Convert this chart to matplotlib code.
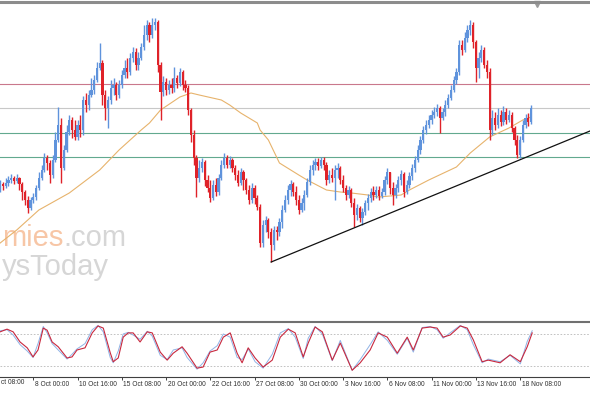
import matplotlib.pyplot as plt
from matplotlib.transforms import ScaledTranslation

# H4 candles (price in chart points, higher = higher price); open = previous close
first_open = 111
close = [116, 114, 117, 120, 122, 119, 122, 116, 108, 100,
         92, 100, 103, 112, 122, 130, 142, 137, 125, 140,
         160, 175, 132, 150, 168, 180, 170, 163, 175, 170,
         200, 195, 205, 210, 220, 232, 237, 205, 192, 200,
         212, 215, 205, 215, 225, 232, 228, 242, 248, 235,
         242, 253, 265, 275, 265, 275, 278, 235, 208, 218,
         210, 215, 212, 222, 217, 228, 215, 212, 190, 165,
         142, 122, 132, 138, 120, 112, 102, 115, 108, 122,
         135, 142, 135, 140, 132, 125, 117, 128, 120, 110,
         100, 112, 102, 93, 57, 75, 80, 68, 55, 70,
         68, 78, 90, 100, 110, 116, 108, 100, 90, 97,
         105, 118, 130, 135, 138, 134, 140, 135, 120, 125,
         122, 130, 132, 120, 112, 105, 110, 97, 85,
         92, 82, 88, 97, 102, 108, 105, 110, 104, 108,
         120, 128, 112, 105, 112, 120, 126, 108, 115, 124,
         132, 140, 150, 160, 170, 175, 180, 185, 188, 192,
         182, 188, 195, 202, 210, 220, 228, 255, 250, 262,
         270, 275, 258, 232, 242, 250, 235, 228, 170, 182,
         175, 185, 178, 188, 180, 185, 172, 160, 145, 160,
         175, 182, 178, 192]
high = [120, 118, 122, 124, 126, 124, 126, 123, 118, 110,
        104, 103, 107, 115, 128, 135, 147, 145, 140, 145,
        168, 193, 182, 155, 175, 185, 183, 180, 180, 185,
        204, 207, 210, 222, 225, 238, 257, 240, 210, 204,
        220, 222, 218, 220, 230, 240, 242, 247, 253, 252,
        248, 257, 275, 280, 278, 282, 282, 280, 238, 224,
        222, 220, 222, 233, 225, 232, 230, 220, 215, 192,
        170, 145, 140, 142, 140, 125, 120, 120, 122, 126,
        140, 147, 145, 144, 142, 135, 130, 132, 130, 122,
        115, 117, 115, 105, 96, 80, 84, 82, 72, 74,
        74, 82, 95, 105, 115, 120, 118, 114, 105, 102,
        110, 122, 135, 140, 142, 142, 143, 143, 138, 130,
        132, 135, 137, 134, 125, 115, 114, 112, 102,
        96, 94, 92, 100, 106, 112, 114, 114, 114, 112,
        124, 132, 128, 118, 116, 124, 130, 128, 120, 128,
        136, 144, 155, 164, 174, 180, 185, 190, 193, 196,
        194, 192, 200, 206, 215, 224, 232, 260, 260, 268,
        275, 280, 278, 260, 248, 255, 253, 240, 232, 190,
        188, 192, 190, 194, 192, 190, 188, 174, 165, 164,
        180, 186, 187, 195]
low = [108, 110, 112, 114, 117, 116, 117, 110, 100, 95,
       87, 90, 97, 100, 110, 120, 128, 130, 117, 122,
       138, 158, 117, 130, 148, 165, 162, 160, 160, 163,
       165, 188, 190, 203, 206, 218, 230, 195, 180, 172,
       196, 205, 200, 202, 212, 222, 222, 225, 238, 230,
       230, 240, 250, 260, 258, 262, 270, 228, 180, 204,
       205, 206, 207, 208, 212, 214, 210, 208, 185, 158,
       135, 103, 118, 128, 114, 108, 98, 100, 104, 105,
       120, 132, 132, 132, 128, 120, 114, 115, 110, 106,
       96, 97, 96, 90, 53, 53, 68, 62, 38, 50,
       60, 64, 72, 88, 96, 104, 104, 95, 86, 88,
       90, 103, 115, 125, 130, 130, 132, 130, 115, 117,
       118, 100, 122, 116, 108, 100, 102, 93, 73,
       80, 78, 75, 85, 90, 98, 100, 102, 100, 102,
       105, 116, 106, 95, 102, 108, 115, 103, 106, 112,
       120, 128, 138, 146, 157, 166, 172, 176, 182, 184,
       167, 180, 184, 192, 200, 208, 216, 225, 245, 248,
       258, 265, 252, 218, 222, 238, 232, 222, 160, 165,
       170, 172, 174, 175, 176, 178, 168, 155, 142, 142,
       158, 172, 174, 176]

# moving average
ma_idx = [0, 6, 14, 25, 36, 43, 47, 51, 54, 58, 65, 69, 72, 80, 83, 87, 93, 94,
          97, 101, 108, 111, 118, 123, 127, 133, 137, 145, 148, 155, 165, 170,
          177, 184, 189, 192]
ma_val = [57, 70, 90, 107, 130, 150, 160, 170, 177, 190, 203, 207, 205, 200, 195,
          187, 177, 170, 160, 137, 125, 120, 110, 108, 107, 105, 103, 105, 110,
          120, 133, 147, 163, 172, 180, 183]

# horizontal levels and rising trendline
level_vals = [216, 192, 167, 143]
level_colors = ["#c9788c", "#c8c8c8", "#62a98f", "#62a98f"]
trend_idx = [98, 213.3]
trend_val = [38, 169]

# stochastic oscillator (%K blue, %D red)
stoch_idx = [0, 2.5, 4.7, 7.2, 9.8, 11.9, 13.7, 15.6, 17.0, 18.8, 21.0, 24.2,
             26.0, 27.8, 30.7, 33.3, 35.4, 37.3, 39.8, 40.9, 42.7, 44.5, 46.3,
             48.1, 50.6, 53.2, 55.0, 57.9, 60.4, 62.6, 65.8, 67.6, 71.2, 73.4,
             75.9, 78.5, 80.7, 83.2, 85.7, 87.5, 89.7, 92.2, 95.1, 98.4, 101.3,
             104.2, 106.7, 109.6, 111.4, 113.9, 116.5, 120.1, 123.0, 127.3,
             130.2, 133.8, 136.7, 140.0, 143.6, 147.2, 149.4, 152.6, 155.5,
             158.0, 160.2, 162.7, 166.4, 168.9, 171.1, 174.3, 176.5, 180.8,
             184.4, 188.1, 190.6, 192.4]
stoch_k = [86, 88, 78, 60, 48, 36, 62, 94, 82, 62, 50, 33, 42, 52, 62, 88, 96,
           84, 36, 26, 48, 80, 83, 78, 70, 85, 76, 40, 32, 50, 54, 36, 14, 26,
           48, 58, 80, 74, 36, 32, 52, 28, 16, 42, 82, 90, 74, 34, 72, 94, 80,
           30, 68, 12, 32, 60, 84, 68, 42, 72, 46, 92, 94, 88, 72, 82, 96, 88,
           60, 26, 33, 28, 40, 24, 66, 86]
stoch_d = [84, 89, 84, 65, 54, 37, 50, 91, 87, 65, 56, 35, 37, 50, 54, 82, 95,
           91, 45, 28, 35, 74, 82, 82, 65, 84, 82, 46, 31, 44, 56, 44, 16, 18,
           46, 50, 74, 82, 44, 26, 54, 35, 18, 31, 74, 89, 82, 37, 63, 93, 84,
           31, 63, 12, 26, 50, 82, 74, 44, 74, 50, 91, 93, 91, 74, 78, 95, 91,
           69, 28, 31, 26, 41, 28, 56, 82]

tick_idx = [12, 28, 44, 60, 76, 92, 108, 124, 140, 156, 172, 188]
tick_labels = ["8 Oct 00:00", "10 Oct 16:00", "15 Oct 08:00", "20 Oct 00:00",
               "22 Oct 16:00", "27 Oct 08:00", "30 Oct 00:00", "3 Nov 16:00",
               "6 Nov 08:00", "11 Nov 00:00", "13 Nov 16:00", "18 Nov 08:00"]
edge_label = "ct 08:00"   # the part of the first date label left at the edge

bull = "#5f93dc"
bear = "#df2229"
H = 393

fig = plt.figure(figsize=(5.9, 3.93), dpi=100)
ax = fig.add_axes([0, 1 - 320 / H, 1, 318.5 / H])
ax2 = fig.add_axes([0, 1 - 377 / H, 1, 55 / H])
xmin, xmax = -0.05, 213.3

# watermark (only the part that shows at the left edge)
wm_font = "Liberation Sans"
t1 = ax.text(0.003, 0.233, "mies", transform=ax.transAxes, ha="left", va="baseline",
             fontsize=21, color="#f7c6a6", family=wm_font, zorder=0)
ax.annotate(".com", xy=(1, 0), xycoords=t1, va="bottom", ha="left",
            fontsize=21, color="#d6d6d6", family=wm_font, zorder=0)
ax.text(0.003, 0.14, "ysToday", transform=ax.transAxes, ha="left", va="baseline",
        fontsize=21, color="#d6d6d6", family=wm_font, zorder=0)

for v, c in zip(level_vals, level_colors):
    ax.axhline(v, color=c, linewidth=0.8, zorder=1)

ax.plot(ma_idx, ma_val, color="#e7b36c", linewidth=0.8, zorder=2)
ax.plot(trend_idx, trend_val, color="#111111", linewidth=0.9, zorder=4)

opens = [first_open] + close[:-1]
idx = list(range(len(close)))
colors = [bull if c >= o else bear for o, c in zip(opens, close)]
bottoms = [min(o, c) for o, c in zip(opens, close)]
heights = [max(abs(c - o), 1.0) for o, c in zip(opens, close)]
ax.vlines(idx, low, high, colors=colors, linewidth=1.0, zorder=3)
ax.bar(idx, heights, bottom=bottoms, width=0.8, color=colors, linewidth=0, zorder=3)

ax.set_xlim(xmin, xmax)
ax.set_ylim(-20, 298.5)
ax.set_xticks([])
ax.set_yticks([])
for s in ["left", "right", "bottom"]:
    ax.spines[s].set_visible(False)
ax.spines["top"].set_color("#8c8c8c")
ax.spines["top"].set_linewidth(2.2)
ax.plot([0.91], [0.993], marker="v", markersize=4, color="#9a9a9a",
        transform=ax.transAxes, clip_on=False)

# stochastic panel
for lv in [80, 20]:
    ax2.axhline(lv, color="#b8b8b8", linewidth=0.6, linestyle=(0, (2, 2)))
ax2.plot(stoch_idx, stoch_k, color="#90b3e6", linewidth=0.7)
ax2.plot(stoch_idx, stoch_d, color="#c8283e", linewidth=0.8)
ax2.set_xlim(xmin, xmax)
ax2.set_ylim(-0.6, 102.4)
ax2.set_yticks([])
ax2.spines["left"].set_visible(False)
ax2.spines["right"].set_visible(False)
ax2.spines["top"].set_color("#707070")
ax2.spines["top"].set_linewidth(1.5)
ax2.spines["bottom"].set_color("#404040")
ax2.spines["bottom"].set_linewidth(0.8)

ax2.set_xticks(tick_idx)
ax2.set_xticklabels(tick_labels)
ax2.tick_params(axis="x", direction="out", length=2.5, width=0.7, color="#404040",
                pad=0.5, labelsize=4.8, labelcolor="#303030")
shift = ScaledTranslation(1.5 / 100, 0, fig.dpi_scale_trans)
for lab in ax2.get_xticklabels():
    lab.set_horizontalalignment("left")
    lab.set_family("Liberation Sans")
    lab.set_transform(lab.get_transform() + shift)
ax2.text(0.001, -0.045, edge_label, transform=ax2.transAxes,
         ha="left", va="top", fontsize=4.8, color="#303030", family="Liberation Sans",
         clip_on=False)

fig.savefig("out.png", dpi=100)
